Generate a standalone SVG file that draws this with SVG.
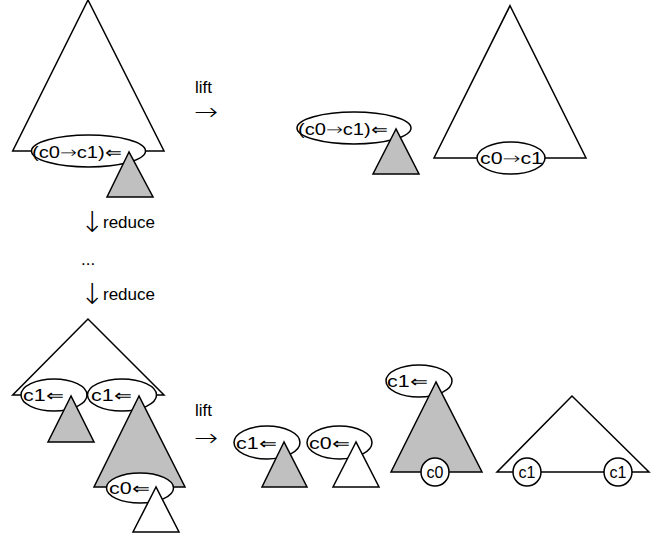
<svg xmlns="http://www.w3.org/2000/svg" width="656" height="541" viewBox="0 0 656 541">
  <style>
    .tri { fill: #ffffff; stroke: #000000; stroke-width: 1.5; stroke-linejoin: miter; }
    .tri-g { fill: #c0c0c0; stroke: #000000; stroke-width: 1.5; stroke-linejoin: miter; }
    .lbl { fill: #ffffff; stroke: #000000; stroke-width: 1.5; }
    text { font-family: "Liberation Sans", Arial, "DejaVu Sans", sans-serif; fill: #000000; }
    .t { font-size: 16px; }
    .tm { font-size: 16px; text-anchor: middle; }
    .cap { font-size: 17px; }
    .sym { font-family: "DejaVu Sans", sans-serif; font-weight: 200; }
    .arr { font-family: "DejaVu Sans", sans-serif; font-weight: 200; font-size: 24px; }
    .darr { font-family: "DejaVu Sans", sans-serif; font-weight: 200; font-size: 29px; }
  </style>

  <!-- top left: tree with a pending lift at the frontier -->
  <g id="tree-start">
    <polygon class="tri" points="88,0 12.7,151 164,151"/>
    <ellipse class="lbl" cx="88.5" cy="151" rx="57" ry="16"/>
    <text class="t" x="32" y="158" textLength="89" lengthAdjust="spacingAndGlyphs">(c0<tspan class="sym">→</tspan>c1)<tspan class="sym">⇐</tspan></text>
    <polygon class="tri-g" points="129,152 107,197 153,197"/>
  </g>

  <!-- top: lift step -->
  <g id="step-lift-1">
    <text class="cap" x="195" y="93">lift</text>
    <text class="arr" x="194" y="120" textLength="24" lengthAdjust="spacingAndGlyphs">→</text>
  </g>

  <!-- top right: lifted label and remaining tree -->
  <g id="lifted-1">
    <ellipse class="lbl" cx="354" cy="128" rx="57" ry="16"/>
    <text class="t" x="298" y="135" textLength="89" lengthAdjust="spacingAndGlyphs">(c0<tspan class="sym">→</tspan>c1)<tspan class="sym">⇐</tspan></text>
    <polygon class="tri-g" points="396,129 373,174 419,174"/>
  </g>
  <g id="tree-after-lift-1">
    <polygon class="tri" points="510,5.7 434,158 586,158"/>
    <ellipse class="lbl" cx="511" cy="158" rx="34" ry="16"/>
    <text class="t" x="480" y="164" textLength="63" lengthAdjust="spacingAndGlyphs">c0<tspan class="sym">→</tspan>c1</text>
  </g>

  <!-- reduction steps -->
  <g id="step-reduce-1">
    <text class="darr" x="80" y="232">↓</text>
    <text class="cap" x="103" y="228">reduce</text>
  </g>
  <g id="step-dots">
    <text class="cap" x="81" y="265">...</text>
  </g>
  <g id="step-reduce-2">
    <text class="darr" x="80" y="304">↓</text>
    <text class="cap" x="103" y="300">reduce</text>
  </g>

  <!-- bottom left: reduced tree with nested pending labels -->
  <g id="tree-reduced">
    <polygon class="tri" points="88,319 12.7,395 164,395"/>
    <ellipse class="lbl" cx="54" cy="395" rx="33" ry="16"/>
    <text class="t" x="23" y="401" textLength="40" lengthAdjust="spacingAndGlyphs">c1<tspan class="sym">⇐</tspan></text>
    <ellipse class="lbl" cx="122" cy="395" rx="34.5" ry="16"/>
    <text class="t" x="91" y="401" textLength="40" lengthAdjust="spacingAndGlyphs">c1<tspan class="sym">⇐</tspan></text>
    <polygon class="tri-g" points="71,396 48,442 94,442"/>
    <polygon class="tri-g" points="139,396 94,487 185,487"/>
    <ellipse class="lbl" cx="140" cy="488" rx="33.5" ry="15"/>
    <text class="t" x="109" y="494" textLength="40" lengthAdjust="spacingAndGlyphs">c0<tspan class="sym">⇐</tspan></text>
    <polygon class="tri" points="156,487 133,532 179,532"/>
  </g>

  <!-- bottom: lift step -->
  <g id="step-lift-2">
    <text class="cap" x="195" y="416">lift</text>
    <text class="arr" x="194" y="446" textLength="24" lengthAdjust="spacingAndGlyphs">→</text>
  </g>

  <!-- bottom right: lifted pieces -->
  <g id="lifted-c1-gray">
    <ellipse class="lbl" cx="267" cy="442.5" rx="33" ry="16.5"/>
    <text class="t" x="236" y="449" textLength="40" lengthAdjust="spacingAndGlyphs">c1<tspan class="sym">⇐</tspan></text>
    <polygon class="tri-g" points="284,442 262,487 307,487"/>
  </g>
  <g id="lifted-c0-white">
    <ellipse class="lbl" cx="339.5" cy="442.5" rx="32.5" ry="16.5"/>
    <text class="t" x="309" y="449" textLength="40" lengthAdjust="spacingAndGlyphs">c0<tspan class="sym">⇐</tspan></text>
    <polygon class="tri" points="356,442 333,487 379,487"/>
  </g>
  <g id="lifted-c1-big">
    <ellipse class="lbl" cx="419" cy="381" rx="33" ry="16"/>
    <text class="t" x="387" y="387" textLength="40" lengthAdjust="spacingAndGlyphs">c1<tspan class="sym">⇐</tspan></text>
    <polygon class="tri-g" points="436,382 391,472 482,472"/>
    <circle class="lbl" cx="435" cy="472" r="14"/>
    <text class="tm" x="435" y="478">c0</text>
  </g>
  <g id="tree-after-lift-2">
    <polygon class="tri" points="572,396 497,472 649,472"/>
    <circle class="lbl" cx="527" cy="472" r="14"/>
    <text class="tm" x="527" y="478">c1</text>
    <circle class="lbl" cx="618" cy="472" r="14"/>
    <text class="tm" x="618" y="478">c1</text>
  </g>
</svg>
